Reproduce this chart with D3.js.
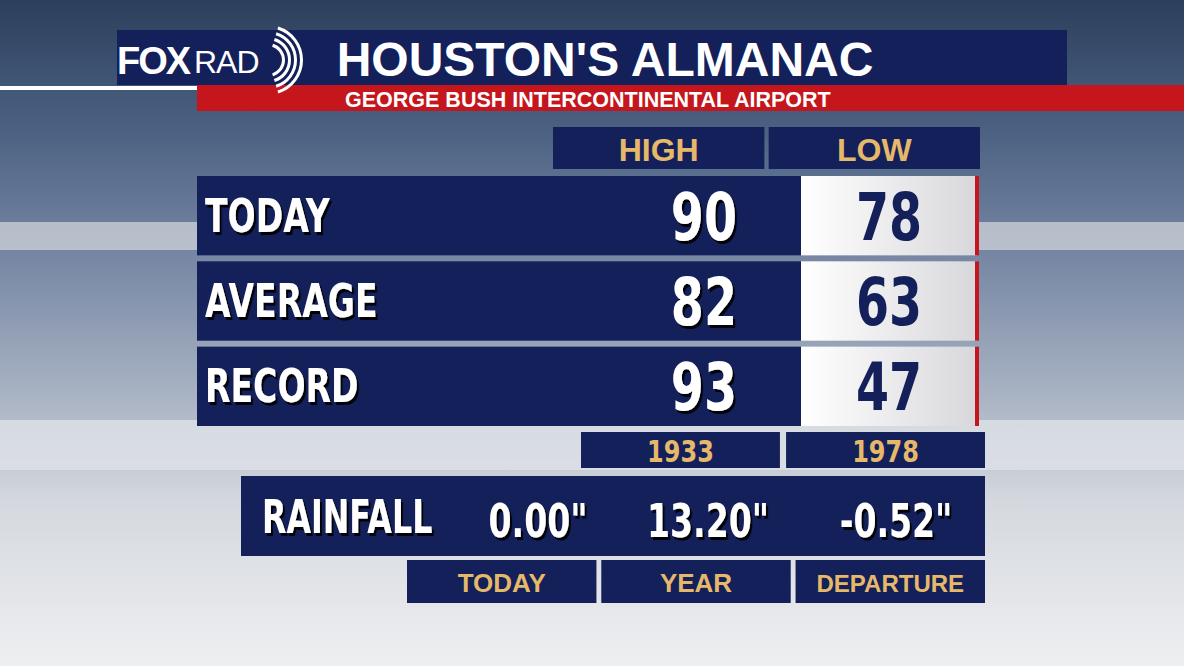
<!DOCTYPE html>
<html><head><meta charset="utf-8">
<script src="https://cdn.jsdelivr.net/npm/d3@7"></script>
<style>body{margin:0;overflow:hidden}svg{display:block}</style>
</head><body>
<script>
const rowLabels = ["TODAY","AVERAGE","RECORD"];
const highValues = [90,82,93];
const lowValues = [78,63,47];
const recordYears = ["1933","1978"];
const columnHeaders = ["HIGH","LOW"];
const rainLabels = ["TODAY","YEAR","DEPARTURE"];
const rainValues = ["0.00\"","13.20\"","-0.52\""];

const W=1184,H=666;
const svg=d3.select("body").append("svg").attr("width",W).attr("height",H);
const defs=svg.append("defs");
const bg=defs.append("linearGradient").attr("id","bg").attr("x1",0).attr("y1",0).attr("x2",0).attr("y2",1);
[[0,"#2c3f5c"],[0.2,"#4d6283"],[0.4,"#7a8aa6"],[0.6,"#aab4c4"],[0.75,"#d4d8de"],[1,"#eeeff1"]].forEach(s=>bg.append("stop").attr("offset",s[0]).attr("stop-color",s[1]));
const cell=defs.append("linearGradient").attr("id","cell").attr("x1",0).attr("y1",0).attr("x2",1).attr("y2",0);
cell.append("stop").attr("offset",0).attr("stop-color","#ffffff");
cell.append("stop").attr("offset",1).attr("stop-color","#d8d8dc");
const sh=defs.append("filter").attr("id","sh");
sh.append("feDropShadow").attr("dx",3).attr("dy",3).attr("stdDeviation",0.5).attr("flood-color","#000").attr("flood-opacity",0.9);

svg.append("rect").attr("width",W).attr("height",H).attr("fill","url(#bg)");
svg.append("rect").attr("x",0).attr("y",222).attr("width",W).attr("height",28).attr("fill","#c9ced6").attr("opacity",0.8);
svg.append("rect").attr("x",0).attr("y",420).attr("width",W).attr("height",50).attr("fill","#dfe2e7").attr("opacity",0.8);

const navy="#13205a", gold="#e6b86a", red="#c4161c";
const wide="'Liberation Sans','DejaVu Sans',Arial,sans-serif";
const cfont="'DejaVu Sans',sans-serif";

function ctext(x,y,size,anchor,txt,fill,shadow,sx){
  const t=svg.append("text").attr("transform",`translate(${x},${y}) scale(${sx||0.72},1)`)
    .attr("text-anchor",anchor).attr("font-family",cfont).attr("font-weight","bold")
    .attr("font-size",size).attr("fill",fill).text(txt);
  if(shadow) t.attr("filter","url(#sh)");
  return t;
}

svg.append("rect").attr("x",117).attr("y",30).attr("width",950).attr("height",55).attr("fill",navy);
svg.append("rect").attr("x",0).attr("y",86).attr("width",198).attr("height",4).attr("fill","#fff");
svg.append("rect").attr("x",197).attr("y",85).attr("width",W-197).attr("height",26).attr("fill",red);
svg.append("text").attr("x",117).attr("y",74).attr("font-family",wide).attr("font-weight","bold").attr("font-size",38).attr("fill","#fff").attr("letter-spacing",-2).text("FOX");
svg.append("text").attr("x",194).attr("y",73).attr("font-family",wide).attr("font-size",32).attr("fill","#fff").attr("letter-spacing",-1).text("RAD");
[14,20,26,32].forEach(r=>svg.append("path").attr("d",d3.arc()({innerRadius:r,outerRadius:r+3,startAngle:0.3,endAngle:Math.PI-0.3})).attr("transform","translate(268,60)").attr("fill","#fff"));
svg.append("text").attr("x",605).attr("y",76).attr("text-anchor","middle").attr("font-family",wide).attr("font-weight","bold").attr("font-size",48).attr("fill","#fff").text("HOUSTON'S ALMANAC");
svg.append("text").attr("x",345).attr("y",107).attr("font-family",wide).attr("font-weight","bold").attr("font-size",21.5).attr("fill","#fff").text("GEORGE BUSH INTERCONTINENTAL AIRPORT");

const col=d3.scaleBand().domain(columnHeaders).range([553,980]).paddingInner(0.02);
columnHeaders.forEach(d=>{
  svg.append("rect").attr("x",col(d)).attr("y",127).attr("width",col.bandwidth()).attr("height",42).attr("fill",navy);
  svg.append("text").attr("x",col(d)+col.bandwidth()/2).attr("y",161).attr("text-anchor","middle").attr("font-family",wide).attr("font-weight","bold").attr("font-size",32).attr("fill",gold).text(d);
});

const row=d3.scaleBand().domain(rowLabels).range([176,426]).paddingInner(0.07);
rowLabels.forEach((lab,i)=>{
  const y=row(lab),h=row.bandwidth();
  svg.append("rect").attr("x",197).attr("y",y).attr("width",604).attr("height",h).attr("fill",navy);
  svg.append("rect").attr("x",801).attr("y",y).attr("width",176).attr("height",h).attr("fill","url(#cell)");
  svg.append("rect").attr("x",975).attr("y",y).attr("width",4).attr("height",h).attr("fill",red);
  ctext(205,y+h/2+16,46,"start",lab,"#fff",true,0.72);
  ctext(737,y+h/2+24,66,"end",highValues[i],"#fff",true);
  ctext(889,y+h/2+24,66,"middle",lowValues[i],navy,false);
});

const yr=d3.scaleBand().domain(recordYears).range([581,985]).paddingInner(0.03);
recordYears.forEach(d=>{
  svg.append("rect").attr("x",yr(d)).attr("y",432).attr("width",yr.bandwidth()).attr("height",36).attr("fill",navy);
  ctext(yr(d)+yr.bandwidth()/2,462,30,"middle",d,gold,false,0.8);
});

svg.append("rect").attr("x",241).attr("y",476).attr("width",744).attr("height",80).attr("fill",navy);
ctext(262,533,46,"start","RAINFALL","#fff",true,0.69);
const rc=[538,708,896];
rainValues.forEach((v,i)=>ctext(rc[i],537,46,"middle",v,"#fff",true,0.72));
const rb=d3.scaleBand().domain(rainLabels).range([407,985]).paddingInner(0.025);
rainLabels.forEach(d=>{
  svg.append("rect").attr("x",rb(d)).attr("y",560).attr("width",rb.bandwidth()).attr("height",43).attr("fill",navy);
  svg.append("text").attr("x",rb(d)+rb.bandwidth()/2).attr("y",592).attr("text-anchor","middle").attr("font-family",wide).attr("font-weight","bold").attr("font-size",d==="DEPARTURE"?24:26).attr("fill",gold).text(d);
});
</script>
</body></html>
